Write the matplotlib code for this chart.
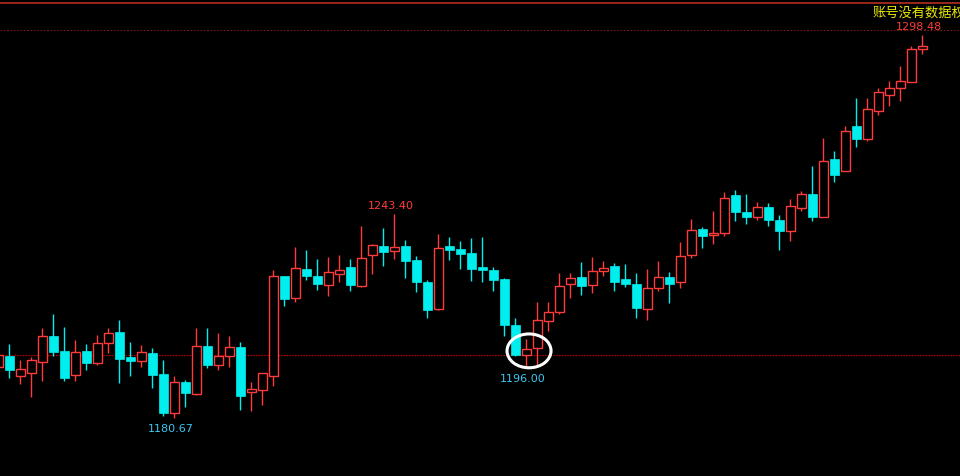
import matplotlib
matplotlib.use("Agg")
import matplotlib.pyplot as plt
from matplotlib.patches import Rectangle, Ellipse

# daily candles (price units)
opens = [1196.35, 1199.82, 1193.77, 1194.69, 1198.07, 1205.97, 1201.36, 1194.07, 1201.36, 1197.76,
         1203.91, 1207.20, 1199.51, 1198.38, 1200.74, 1194.29, 1182.39, 1191.83, 1188.23, 1202.80,
         1197.15, 1199.73, 1202.50, 1188.66, 1189.28, 1193.77, 1224.32, 1217.56, 1226.56, 1224.32,
         1221.74, 1225.12, 1227.18, 1221.43, 1230.77, 1233.63, 1232.00, 1233.63, 1229.33, 1222.57,
         1214.36, 1233.63, 1232.71, 1231.48, 1227.18, 1226.25, 1223.49, 1209.35, 1200.04, 1202.19,
         1210.49, 1213.44, 1221.86, 1224.10, 1221.55, 1225.85, 1227.39, 1223.40, 1221.86, 1214.42,
         1220.57, 1224.01, 1222.47, 1230.96, 1238.76, 1237.10, 1237.53, 1249.30, 1244.08, 1242.63,
         1245.62, 1241.62, 1238.33, 1245.40, 1249.61, 1242.63, 1260.37, 1256.77, 1270.51, 1266.61,
         1275.21, 1280.13, 1282.28, 1284.13, 1294.09]
highs = [1200.04, 1203.51, 1198.59, 1199.42, 1208.43, 1212.73, 1208.73, 1204.74, 1203.51, 1206.28,
         1208.43, 1210.89, 1204.12, 1203.20, 1202.28, 1198.59, 1193.67, 1192.45, 1208.43, 1208.43,
         1206.89, 1205.97, 1204.12, 1191.83, 1194.69, 1226.25, 1224.41, 1233.23, 1232.40, 1229.63,
         1230.16, 1230.86, 1229.63, 1239.78, 1234.24, 1239.16, 1243.40, 1235.47, 1230.56, 1223.18,
         1237.32, 1236.40, 1235.17, 1236.09, 1236.40, 1227.18, 1223.79, 1211.59, 1205.05, 1216.33,
         1216.33, 1225.33, 1225.33, 1228.62, 1230.25, 1228.93, 1228.31, 1228.10, 1225.33, 1226.56,
         1229.02, 1225.64, 1234.77, 1241.93, 1239.47, 1244.39, 1250.23, 1250.84, 1249.61, 1247.15,
         1246.85, 1243.16, 1248.08, 1250.44, 1258.22, 1266.82, 1262.83, 1270.51, 1279.12, 1279.12,
         1282.10, 1284.34, 1288.95, 1295.10, 1298.48]
lows = [1196.35, 1193.06, 1191.22, 1187.31, 1192.23, 1199.82, 1192.23, 1192.23, 1195.52, 1197.05,
        1200.84, 1191.61, 1193.67, 1196.53, 1189.99, 1181.47, 1180.67, 1184.24, 1187.93, 1196.23,
        1195.61, 1196.53, 1183.32, 1183.01, 1184.85, 1190.69, 1215.28, 1216.51, 1223.27, 1220.20,
        1218.35, 1222.66, 1219.89, 1221.12, 1225.12, 1227.58, 1229.73, 1223.89, 1219.58, 1211.59,
        1214.05, 1229.42, 1226.65, 1222.97, 1222.66, 1219.89, 1206.06, 1199.82, 1196.00, 1197.05,
        1207.60, 1212.73, 1217.65, 1218.66, 1219.28, 1224.50, 1219.89, 1221.12, 1211.59, 1211.04,
        1219.89, 1216.20, 1220.81, 1230.03, 1233.02, 1234.24, 1236.80, 1241.31, 1240.48, 1241.71,
        1239.87, 1232.49, 1235.26, 1244.48, 1241.41, 1242.54, 1253.39, 1256.68, 1264.15, 1265.99,
        1273.98, 1276.75, 1278.29, 1284.13, 1292.73]
closes = [1200.04, 1195.52, 1195.73, 1198.59, 1205.88, 1201.05, 1193.06, 1200.96, 1197.67, 1203.82,
          1206.89, 1198.90, 1198.28, 1200.96, 1193.98, 1182.30, 1191.74, 1188.54, 1202.80, 1197.15,
          1199.73, 1202.50, 1187.62, 1189.59, 1194.50, 1224.32, 1217.43, 1226.78, 1224.50, 1222.04,
          1225.55, 1226.16, 1221.64, 1229.85, 1233.85, 1231.88, 1233.23, 1229.11, 1222.66, 1214.05,
          1232.92, 1232.49, 1231.26, 1226.65, 1226.35, 1223.27, 1209.44, 1200.22, 1201.88, 1210.79,
          1213.25, 1221.24, 1223.70, 1221.43, 1225.85, 1226.78, 1222.66, 1221.95, 1214.67, 1220.63,
          1224.01, 1222.04, 1230.46, 1238.46, 1236.80, 1237.63, 1248.29, 1244.17, 1242.63, 1245.52,
          1241.71, 1238.33, 1245.83, 1249.52, 1242.63, 1259.66, 1255.54, 1268.88, 1266.61, 1275.64,
          1280.87, 1282.10, 1284.25, 1294.09, 1295.01]

prev_close = 1200.00
grid_level = 1300.00
hi_marks = [(36, "1243.40"), (84, "1298.48")]
lo_marks = [(16, "1180.67"), (48, "1196.00")]
circled = 48

UP = "#ff3b3b"
DOWN = "#00eeee"
W = 0.78

fig = plt.figure(figsize=(9.6, 4.77), dpi=100, facecolor="black")
ax = fig.add_axes([0, 0, 1, 1], facecolor="black")
ax.set_xlim(0.155, 87.43)
ax.set_ylim(1162.94, 1309.55)
ax.axis("off")

# frame line + guide lines
ax.axhline(1308.45, color="#a82a1e", lw=1.3)
ax.axhline(grid_level, color="#7a1a14", lw=0.8, ls=(0, (1.5, 1.5)))
ax.axhline(prev_close, color="#b80000", lw=0.8, ls=(0, (1.5, 1)))

for i, (o, h, l, c) in enumerate(zip(opens, highs, lows, closes)):
    if c >= o:
        ax.vlines(i, c, h, color=UP, lw=1)
        ax.vlines(i, l, o, color=UP, lw=1)
        ax.add_patch(Rectangle((i - W / 2, o), W, c - o, facecolor="black",
                               edgecolor=UP, lw=1, zorder=3))
    else:
        ax.vlines(i, l, h, color=DOWN, lw=1)
        ax.add_patch(Rectangle((i - W / 2, c), W, o - c, facecolor=DOWN,
                               edgecolor=DOWN, lw=0.5, zorder=3))

for i, txt in hi_marks:
    ax.annotate(txt, (i - 0.3, highs[i]), xytext=(0, 6.5), textcoords="offset points",
                ha="center", va="center", color="#ff3c3c", fontsize=8)
for i, txt in lo_marks:
    ax.annotate(txt, (i - 0.3, lows[i]), xytext=(0, -7), textcoords="offset points",
                ha="center", va="center", color="#3cc8f0", fontsize=8)

# white ring around the low candle
ax.add_patch(Ellipse((circled + 0.25, 1201.4), 4.0, 10.4, fill=False,
                     edgecolor="white", lw=2.2, zorder=5))

fig.text(0.909, 0.9727, "账号没有数据权限", color="#e8e800", fontsize=9.5,
         family=["Noto Sans CJK SC", "DejaVu Sans"], ha="left", va="center")

fig.savefig("out.png", dpi=100, facecolor="black")
